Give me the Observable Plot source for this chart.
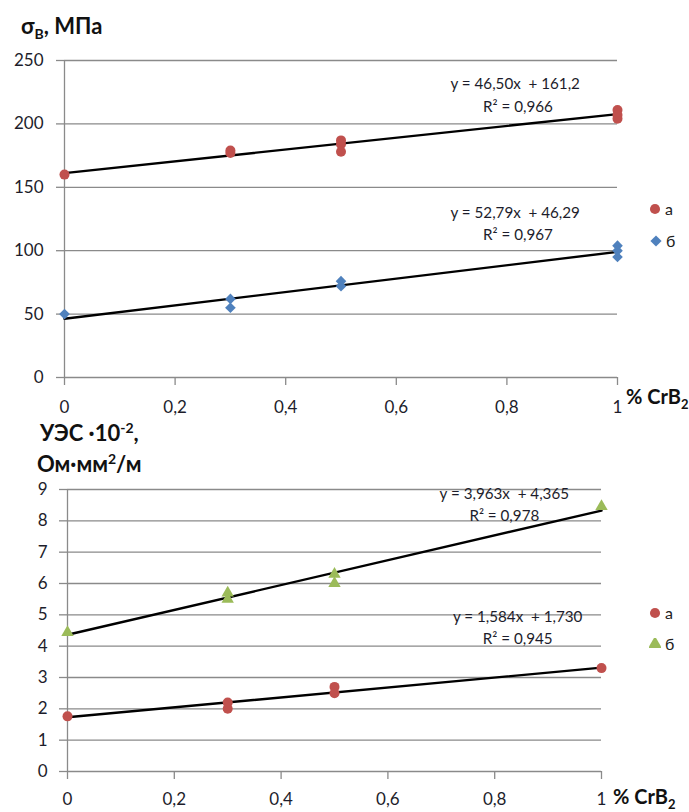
<!DOCTYPE html>
<html>
<head>
<meta charset="utf-8">
<script src="https://cdn.jsdelivr.net/npm/d3@7"></script>
<script src="https://cdn.jsdelivr.net/npm/@observablehq/plot@0.6"></script>
<style>
  body { margin: 0; background: #fff; font-family: Lato, "Open Sans", sans-serif; }
  #wrap { position: relative; width: 689px; height: 812px; overflow: hidden; background: #fff; }
  #wrap > svg, #wrap > figure { position: absolute; left: 0; margin: 0; }
  .abs { position: absolute; white-space: nowrap; color: #111; }
  .ttl { font-weight: bold; font-size: 22px; line-height: 1; }
  .ttl sub, .ttl sup { font-size: 14px; }
  .ttl.small { font-size: 20px; }
  .ttl.small sub { font-size: 13px; line-height: 0; }
  .leg { font-size: 16px; color: #222; display: flex; align-items: center; gap: 4px; line-height: 1; }
</style>
</head>
<body>
<div id="wrap"></div>
<script>
// Shared x axis: CrB2 content, %
const xTicks = [0, 0.2, 0.4, 0.6, 0.8, 1];
const xTickLabels = ["0", "0,2", "0,4", "0,6", "0,8", "1"];

// Tensile strength σB, MPa
const strengthTicks = [0, 50, 100, 150, 200, 250];
const strengthX_a = [0, 0.3, 0.3, 0.5, 0.5, 0.5, 1, 1, 1];
const strengthY_a = [160, 177, 179, 187, 184, 178, 211, 207, 204];
const strengthX_b = [0, 0.3, 0.3, 0.5, 0.5, 1, 1, 1];
const strengthY_b = [50, 62, 55, 76, 72, 104, 100, 95];
const strengthSlope = [46.50, 52.79];
const strengthIntercept = [161.2, 46.29];
const strengthEq = ["y = 46,50x  + 161,2", "y = 52,79x  + 46,29"];
const strengthR2 = ["R² = 0,966", "R² = 0,967"];

// Specific electrical resistance ×10⁻², Ohm·mm²/m
const resistTicks = [0, 1, 2, 3, 4, 5, 6, 7, 8, 9];
const resistX_a = [0, 0.3, 0.3, 0.5, 0.5, 1];
const resistY_a = [1.76, 2.2, 2.0, 2.7, 2.5, 3.3];
const resistX_b = [0, 0.3, 0.3, 0.5, 0.5, 1];
const resistY_b = [4.44, 5.7, 5.5, 6.3, 6.0, 8.46];
const resistSlope = [1.584, 3.963];
const resistIntercept = [1.730, 4.365];
const resistEq = ["y = 1,584x  + 1,730", "y = 3,963x  + 4,365"];
const resistR2 = ["R² = 0,945", "R² = 0,978"];

const seriesNames = ["а", "б"];

const RED = "#C0504D", BLUE = "#4F81BD", GREEN = "#9BBB59";
const GRID = "#8a8a8a", TXT = "#1d1d2b";
const FONT = "Lato, 'Open Sans', sans-serif";

const pts = (xs, ys) => xs.map((x, i) => ({x, y: ys[i]}));
const fitLine = (m, b) => d3.extent(xTicks).map(x => ({x, y: m * x + b}));
const fmtX = d => xTickLabels[xTicks.indexOf(d)];
const nbsp = s => s.replace(/ /g, "\u00a0");

function chart({height, mt, mb, ml, mr, yTicks, padY, padX, series, fits, labels}) {
  const yDom = d3.extent(yTicks);
  const marks = [
    Plot.gridY(yTicks, {stroke: GRID, strokeOpacity: 1, strokeWidth: 1.3}),
    Plot.axisY(yTicks, {tickSize: 8, tickPadding: padY, stroke: GRID, strokeWidth: 1.3,
      fill: TXT, fontSize: 17, label: null}),
    Plot.ruleX([0], {y1: yDom[0], y2: yDom[1], stroke: GRID, strokeWidth: 1.3}),
    Plot.axisX(xTicks, {tickSize: 8, tickPadding: padX, tickFormat: fmtX, stroke: GRID,
      strokeWidth: 1.3, fill: TXT, fontSize: 17, label: null})
  ];
  for (const f of fits) {
    marks.push(Plot.line(fitLine(f.m, f.b), {x: "x", y: "y", stroke: "#000", strokeWidth: 2.4}));
  }
  for (const s of series) {
    marks.push(Plot.dot(s.data, {x: "x", y: "y", symbol: s.symbol, r: s.r, fill: s.color, stroke: "none"}));
  }
  for (const l of labels) {
    marks.push(Plot.text([l], {x: "x", y: "y", text: d => nbsp(d.text), fontSize: 15.2, fill: TXT, textAnchor: "middle"}));
  }
  return Plot.plot({
    width: 689, height, marginTop: mt, marginBottom: mb, marginLeft: ml, marginRight: mr,
    style: {fontFamily: FONT, background: "transparent", overflow: "visible"},
    x: {domain: d3.extent(xTicks)},
    y: {domain: yDom},
    marks
  });
}

const wrap = document.getElementById("wrap");

const strengthChart = chart({
  height: 430, mt: 60, mb: 53, ml: 64, mr: 72,
  yTicks: strengthTicks, padY: 13, padX: 15,
  series: [
    {data: pts(strengthX_a, strengthY_a), symbol: "circle", r: 5, color: RED},
    {data: pts(strengthX_b, strengthY_b), symbol: "diamond2", r: 4.8, color: BLUE}
  ],
  fits: [0, 1].map(i => ({m: strengthSlope[i], b: strengthIntercept[i]})),
  labels: [
    {x: 0.815, y: 231, text: strengthEq[0]},
    {x: 0.82, y: 213.5, text: strengthR2[0]},
    {x: 0.815, y: 130, text: strengthEq[1]},
    {x: 0.82, y: 112.5, text: strengthR2[1]}
  ]
});
strengthChart.style.top = "0px";
wrap.appendChild(strengthChart);

const resistChart = chart({
  height: 382, mt: 59, mb: 41, ml: 67, mr: 88,
  yTicks: resistTicks, padY: 12, padX: 13,
  series: [
    {data: pts(resistX_a, resistY_a), symbol: "circle", r: 5, color: RED},
    {data: pts(resistX_b, resistY_b), symbol: "triangle", r: 4.6, color: GREEN}
  ],
  fits: [0, 1].map(i => ({m: resistSlope[i], b: resistIntercept[i]})),
  labels: [
    {x: 0.843, y: 4.92, text: resistEq[0]},
    {x: 0.843, y: 4.21, text: resistR2[0]},
    {x: 0.818, y: 8.84, text: resistEq[1]},
    {x: 0.818, y: 8.14, text: resistR2[1]}
  ]
});
resistChart.style.top = "430px";
wrap.appendChild(resistChart);

// Axis titles
function addText(html, cls, left, topPx) {
  const d = document.createElement("div");
  d.className = "abs " + cls;
  d.innerHTML = html;
  d.style.left = left + "px";
  d.style.top = topPx + "px";
  wrap.appendChild(d);
}
addText("σ<sub>B</sub>, МПа", "ttl", 21, 15);
addText("% CrB<sub>2</sub>", "ttl small", 626, 386);
addText("УЭС ·10<sup>-2</sup>,", "ttl", 40, 421);
addText("Ом·мм<sup>2</sup>/м", "ttl", 37, 452);
addText("% CrB<sub>2</sub>", "ttl small", 613, 786);

// Legends
function legendItem(symbolType, color, label, left, topPx) {
  const d = document.createElement("div");
  d.className = "abs leg";
  d.style.left = left + "px";
  d.style.top = topPx + "px";
  const size = 12;
  const svg = d3.create("svg").attr("width", size).attr("height", size)
    .attr("viewBox", `${-size / 2} ${-size / 2} ${size} ${size}`);
  svg.append("path").attr("d", d3.symbol(symbolType, 80)()).attr("fill", color);
  d.appendChild(svg.node());
  const t = document.createElement("span");
  t.textContent = label;
  d.appendChild(t);
  wrap.appendChild(d);
}
legendItem(d3.symbolCircle, RED, seriesNames[0], 649, 201);
legendItem(d3.symbolDiamond2, BLUE, seriesNames[1], 650, 233);
legendItem(d3.symbolCircle, RED, seriesNames[0], 649, 605);
legendItem(d3.symbolTriangle, GREEN, seriesNames[1], 649, 636);
</script>
</body>
</html>
